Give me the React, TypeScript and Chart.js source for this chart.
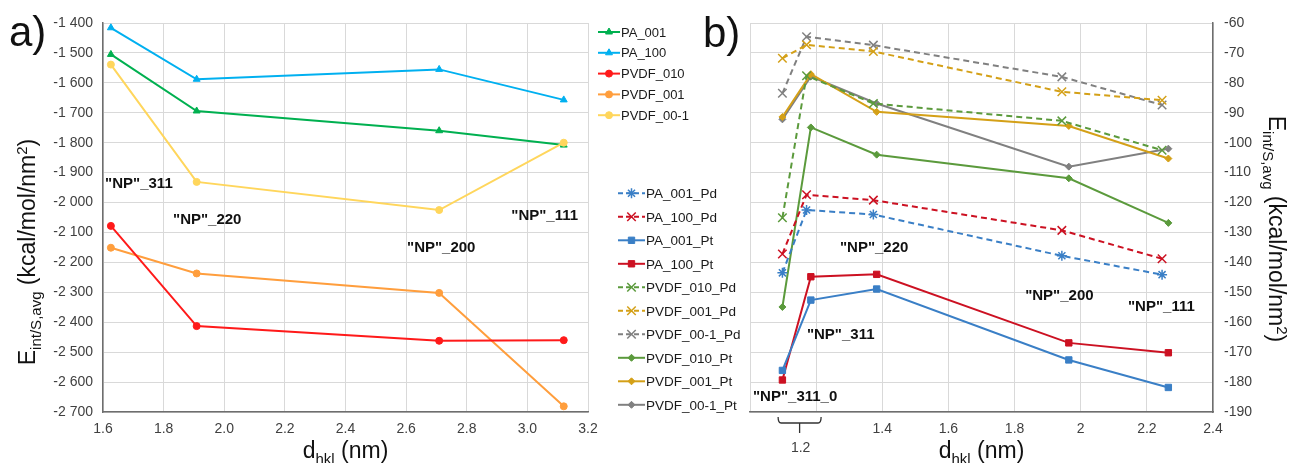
import React, { useEffect, useRef } from 'react';
import { Chart, registerables } from 'chart.js';
import { drawPoint } from 'chart.js/helpers';

Chart.register(...registerables);

const FONT = '"Liberation Sans", Arial, sans-serif';

// ---------- Panel a) data ----------
const leftX = [1.626, 1.909, 2.709, 3.12];
const PA_001 = [-1505, -1694, -1760, -1808];
const PA_100 = [-1416, -1588, -1555, -1657];
const PVDF_010 = [-2078, -2413, -2462, -2460];
const PVDF_001 = [-2151, -2237, -2302, -2681];
const PVDF_00_1 = [-1539, -1931, -2025, -1800];
const leftNames = ['PA_001', 'PA_100', 'PVDF_010', 'PVDF_001', 'PVDF_00-1'];

// ---------- Panel b) data ----------
const xPd = [1.098, 1.171, 1.373, 1.943, 2.246];
const xPt = [1.098, 1.184, 1.383, 1.964, 2.265];
const PA_001_Pd = [-143.5, -122.5, -124.0, -137.8, -144.1];
const PA_100_Pd = [-137.2, -117.4, -119.2, -129.3, -138.8];
const PA_001_Pt = [-176.1, -152.6, -148.9, -172.6, -181.8];
const PA_100_Pt = [-179.3, -144.8, -144.0, -166.9, -170.2];
const PVDF_010_Pd = [-125.1, -77.6, -86.9, -92.7, -102.5];
const PVDF_001_Pd = [-71.8, -67.3, -69.5, -83.0, -85.8];
const PVDF_00_1_Pd = [-83.5, -64.6, -67.4, -78.0, -87.4];
const PVDF_010_Pt = [-154.9, -94.9, -104.0, -111.9, -126.8];
const PVDF_001_Pt = [-91.4, -77.1, -89.7, -94.4, -105.3];
const PVDF_00_1_Pt = [-92.2, -77.9, -86.9, -108.0, -102.0];

// tick ranges
const leftXTicks = { min: 1.6, max: 3.2, step: 0.2 };
const leftYTicks = { min: -2700, max: -1400, step: 100 };
const rightXTicks = { min: 1.0, max: 2.4, step: 0.2 };
const rightYTicks = { min: -190, max: -60, step: 10 };
const rightHiddenXLabels = [1.0, 1.2];
const bracketRange = [1.085, 1.215];
const bracketLabel = '1.2';

// annotations (data coordinates)
const leftNotes = [
  { text: '"NP"_311', x: 1.607, y: -1938 },
  { text: '"NP"_220', x: 1.831, y: -2059 },
  { text: '"NP"_200', x: 2.603, y: -2152 },
  { text: '"NP"_111', x: 2.947, y: -2045 },
];
const rightNotes = [
  { text: '"NP"_220', x: 1.272, y: -135.0 },
  { text: '"NP"_311', x: 1.172, y: -164.2 },
  { text: '"NP"_311_0', x: 1.009, y: -185.0 },
  { text: '"NP"_200', x: 1.832, y: -151.1 },
  { text: '"NP"_111', x: 2.143, y: -154.8 },
];

const pts = (xs: number[], ys: number[]) => ys.map((y, i) => ({ x: xs[i], y }));

function fmtSpace(v: number) {
  const s = Math.abs(Math.round(v)).toString().replace(/\B(?=(\d{3})+(?!\d))/g, ' ');
  return (v < 0 ? '-' : '') + s;
}

type Part = { t: string; size: number; dy: number };
function richWidth(ctx: CanvasRenderingContext2D, parts: Part[]) {
  let w = 0;
  for (const p of parts) {
    ctx.font = `${p.size}px ${FONT}`;
    w += ctx.measureText(p.t).width;
  }
  return w;
}
function drawRich(ctx: CanvasRenderingContext2D, parts: Part[], cx: number, cy: number, angle: number) {
  ctx.save();
  ctx.translate(cx, cy);
  ctx.rotate(angle);
  ctx.fillStyle = '#111111';
  ctx.textBaseline = 'alphabetic';
  ctx.textAlign = 'left';
  const W = richWidth(ctx, parts);
  let x = -W / 2;
  for (const p of parts) {
    ctx.font = `${p.size}px ${FONT}`;
    ctx.fillText(p.t, x, p.dy);
    x += ctx.measureText(p.t).width;
  }
  ctx.restore();
}

const yTitleParts: Part[] = [
  { t: 'E', size: 23, dy: 0 },
  { t: 'int/S,avg', size: 15, dy: 6 },
  { t: ' (kcal/mol/nm', size: 23, dy: 0 },
  { t: '2', size: 15, dy: -8 },
  { t: ')', size: 23, dy: 0 },
];
const xTitleParts: Part[] = [
  { t: 'd', size: 23, dy: 0 },
  { t: 'hkl', size: 15, dy: 6 },
  { t: ' (nm)', size: 23, dy: 0 },
];

function drawLegend(chart: any, x0: number, lineLen: number, y0: number, dy: number, fontSize: number, dash: number[]) {
  const ctx: CanvasRenderingContext2D = chart.ctx;
  ctx.save();
  chart.data.datasets.forEach((ds: any, i: number) => {
    const y = y0 + i * dy;
    ctx.save();
    ctx.strokeStyle = ds.borderColor;
    ctx.lineWidth = 2;
    ctx.setLineDash(ds.borderDash && ds.borderDash.length ? dash : []);
    ctx.beginPath();
    ctx.moveTo(x0, y);
    ctx.lineTo(x0 + lineLen, y);
    ctx.stroke();
    ctx.setLineDash([]);
    ctx.fillStyle = ds.pointBackgroundColor;
    ctx.strokeStyle = ds.pointBorderColor;
    ctx.lineWidth = ds.pointBorderWidth;
    drawPoint(ctx, { pointStyle: ds.pointStyle, radius: ds.pointRadius, rotation: 0, borderWidth: ds.pointBorderWidth } as any, x0 + lineLen / 2, y);
    ctx.restore();
    ctx.fillStyle = '#1a1a1a';
    ctx.font = `${fontSize}px ${FONT}`;
    ctx.textBaseline = 'middle';
    ctx.textAlign = 'left';
    ctx.fillText(ds.label, x0 + lineLen + 1, y + 1);
  });
  ctx.restore();
}

function drawNotes(chart: any, notes: { text: string; x: number; y: number }[]) {
  const ctx: CanvasRenderingContext2D = chart.ctx;
  const xs = chart.scales.x, ys = chart.scales.y;
  ctx.save();
  ctx.fillStyle = '#111111';
  ctx.font = `bold 15px ${FONT}`;
  ctx.textAlign = 'left';
  ctx.textBaseline = 'middle';
  for (const n of notes) {
    ctx.fillText(n.text, xs.getPixelForValue(n.x), ys.getPixelForValue(n.y));
  }
  ctx.restore();
}

const tickFont = { family: FONT, size: 14 };
const tickColor = '#404040';
const gridColor = '#D9D9D9';
const axisColor = '#6E6E6E';

function lineDs(label: string, data: any[], color: string, style: string, radius: number, dashed: boolean, bw = 1, order = 0) {
  return {
    label,
    data,
    order,
    borderColor: color,
    backgroundColor: color,
    borderWidth: 2,
    borderDash: dashed ? [6, 4] : [],
    pointStyle: style,
    pointRadius: radius,
    pointHoverRadius: radius,
    pointBackgroundColor: color,
    pointBorderColor: color,
    pointBorderWidth: bw,
    tension: 0,
    fill: false,
  };
}

export default function App() {
  const leftRef = useRef<HTMLCanvasElement>(null);
  const rightRef = useRef<HTMLCanvasElement>(null);

  useEffect(() => {
    const leftPlugin = {
      id: 'leftDeco',
      afterDraw(chart: any) {
        const ctx: CanvasRenderingContext2D = chart.ctx;
        const a = chart.chartArea;
        drawNotes(chart, leftNotes);
        drawLegend(chart, 598, 22, 32, 20.8, 13, []);
        drawRich(ctx, yTitleParts, 35, 252, -Math.PI / 2);
        drawRich(ctx, xTitleParts, (a.left + a.right) / 2, 458, 0);
        ctx.save();
        ctx.fillStyle = '#111';
        ctx.font = `42px ${FONT}`;
        ctx.textBaseline = 'alphabetic';
        ctx.fillText('a)', 9, 46);
        ctx.restore();
      },
    };
    const rightPlugin = {
      id: 'rightDeco',
      afterDraw(chart: any) {
        const ctx: CanvasRenderingContext2D = chart.ctx;
        const a = chart.chartArea;
        const xs = chart.scales.x;
        drawNotes(chart, rightNotes);
        drawLegend(chart, 28, 27, 193.3, 23.5, 13.5, [5, 3]);
        drawRich(ctx, yTitleParts, 679, 229, Math.PI / 2);
        drawRich(ctx, xTitleParts, (a.left + a.right) / 2, 458, 0);
        // bracket under the axis
        const x1 = xs.getPixelForValue(bracketRange[0]);
        const x2 = xs.getPixelForValue(bracketRange[1]);
        const yb = a.bottom + 11;
        ctx.save();
        ctx.strokeStyle = '#333';
        ctx.lineWidth = 1.3;
        ctx.beginPath();
        ctx.moveTo(x1, a.bottom + 5);
        ctx.quadraticCurveTo(x1, yb, x1 + 3, yb);
        ctx.lineTo(x2 - 3, yb);
        ctx.quadraticCurveTo(x2, yb, x2, a.bottom + 5);
        ctx.moveTo((x1 + x2) / 2, yb);
        ctx.lineTo((x1 + x2) / 2, yb + 10);
        ctx.stroke();
        ctx.fillStyle = tickColor;
        ctx.font = `14px ${FONT}`;
        ctx.textAlign = 'center';
        ctx.textBaseline = 'middle';
        ctx.fillText(bracketLabel, (x1 + x2) / 2 + 1, a.bottom + 36);
        ctx.font = `42px ${FONT}`;
        ctx.fillStyle = '#111';
        ctx.textAlign = 'left';
        ctx.textBaseline = 'alphabetic';
        ctx.fillText('b)', 113, 47);
        ctx.restore();
      },
    };

    const left = new Chart(leftRef.current!, {
      type: 'line',
      data: {
        datasets: [
          lineDs(leftNames[0], pts(leftX, PA_001), '#00B050', 'triangle', 4, false, 1, 1),
          lineDs(leftNames[1], pts(leftX, PA_100), '#00B0F0', 'triangle', 4, false, 1, 1),
          lineDs(leftNames[2], pts(leftX, PVDF_010), '#FF1A1A', 'circle', 3.5, false, 1, 1),
          lineDs(leftNames[3], pts(leftX, PVDF_001), '#FF9E3D', 'circle', 3.5, false, 1, 1),
          lineDs(leftNames[4], pts(leftX, PVDF_00_1), '#FFD65C', 'circle', 3.5, false, 1, 0),
        ],
      },
      options: {
        animation: false,
        responsive: false,
        devicePixelRatio: 1,
        layout: { padding: { left: 0, top: 23, right: 112, bottom: 0 } },
        plugins: { legend: { display: false }, tooltip: { enabled: false } },
        scales: {
          x: {
            type: 'linear',
            min: leftXTicks.min,
            max: leftXTicks.max,
            afterFit: (s: any) => { s.height = 51; },
            ticks: { stepSize: leftXTicks.step, font: tickFont, color: tickColor, padding: 9, maxRotation: 0, callback: (v: any) => Number(v).toFixed(1) },
            grid: { color: gridColor, drawTicks: false },
            border: { color: axisColor, width: 1.5 },
          },
          y: {
            type: 'linear',
            min: leftYTicks.min,
            max: leftYTicks.max,
            afterFit: (s: any) => { s.width = 103; },
            ticks: { stepSize: leftYTicks.step, font: tickFont, color: tickColor, padding: 10, callback: (v: any) => fmtSpace(Number(v)) },
            grid: { color: gridColor, drawTicks: false },
            border: { color: axisColor, width: 1.5 },
          },
        },
      } as any,
      plugins: [leftPlugin],
    });

    const cBlue = '#3A7FC6', cRed = '#CC1122', cGreen = '#5B9A3C', cGold = '#D4A017', cGray = '#808080';
    const right = new Chart(rightRef.current!, {
      type: 'line',
      data: {
        datasets: [
          lineDs('PA_001_Pd', pts(xPd, PA_001_Pd), cBlue, 'star', 5, true, 1.5),
          lineDs('PA_100_Pd', pts(xPd, PA_100_Pd), cRed, 'crossRot', 6, true, 1.5),
          lineDs('PA_001_Pt', pts(xPt, PA_001_Pt), cBlue, 'rect', 4.5, false),
          lineDs('PA_100_Pt', pts(xPt, PA_100_Pt), cRed, 'rect', 4.5, false),
          lineDs('PVDF_010_Pd', pts(xPd, PVDF_010_Pd), cGreen, 'crossRot', 6, true, 1.5),
          lineDs('PVDF_001_Pd', pts(xPd, PVDF_001_Pd), cGold, 'crossRot', 6, true, 1.5),
          lineDs('PVDF_00-1_Pd', pts(xPd, PVDF_00_1_Pd), cGray, 'crossRot', 6, true, 1.5),
          lineDs('PVDF_010_Pt', pts(xPt, PVDF_010_Pt), cGreen, 'rectRot', 3.5, false),
          lineDs('PVDF_001_Pt', pts(xPt, PVDF_001_Pt), cGold, 'rectRot', 3.5, false),
          lineDs('PVDF_00-1_Pt', pts(xPt, PVDF_00_1_Pt), cGray, 'rectRot', 3.5, false),
        ],
      },
      options: {
        animation: false,
        responsive: false,
        devicePixelRatio: 1,
        layout: { padding: { left: 160, top: 23, right: 0, bottom: 0 } },
        plugins: { legend: { display: false }, tooltip: { enabled: false } },
        scales: {
          x: {
            type: 'linear',
            min: rightXTicks.min,
            max: rightXTicks.max,
            afterFit: (s: any) => { s.height = 51; },
            ticks: {
              stepSize: rightXTicks.step, font: tickFont, color: tickColor, padding: 9, maxRotation: 0,
              callback: (v: any) => {
                const r = Math.round(Number(v) * 10) / 10;
                return rightHiddenXLabels.some((h) => Math.abs(h - r) < 1e-6) ? '' : String(r);
              },
            },
            grid: { color: gridColor, drawTicks: false },
            border: { color: axisColor, width: 1.5 },
          },
          y: {
            type: 'linear',
            position: 'right',
            min: rightYTicks.min,
            max: rightYTicks.max,
            afterFit: (s: any) => { s.width = 77; },
            ticks: { stepSize: rightYTicks.step, font: tickFont, color: tickColor, padding: 11 },
            grid: { color: gridColor, drawTicks: false },
            border: { color: axisColor, width: 1.5 },
          },
        },
      } as any,
      plugins: [rightPlugin],
    });

    return () => {
      left.destroy();
      right.destroy();
    };
  }, []);

  return (
    <div style={{ position: 'absolute', left: 0, top: 0, width: 1290, height: 463, background: '#ffffff', overflow: 'hidden' }}>
      <canvas ref={leftRef} width={700} height={463} style={{ position: 'absolute', left: 0, top: 0, width: 700, height: 463 }} />
      <canvas ref={rightRef} width={700} height={463} style={{ position: 'absolute', left: 590, top: 0, width: 700, height: 463 }} />
    </div>
  );
}
